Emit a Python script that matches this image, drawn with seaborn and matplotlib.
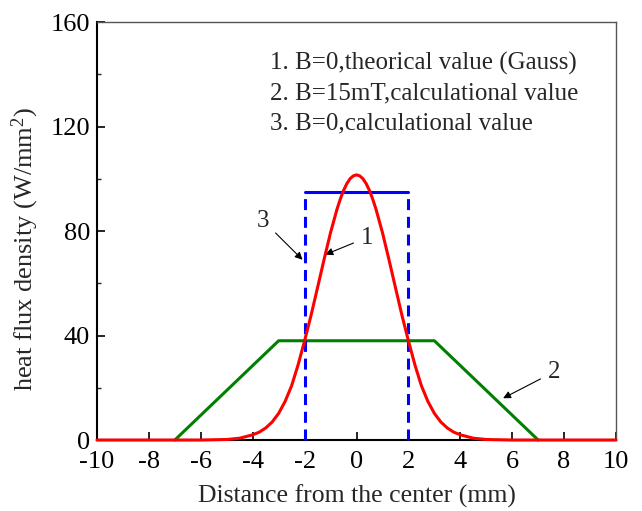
import numpy as np
import pandas as pd
import matplotlib
matplotlib.use("Agg")
import matplotlib.pyplot as plt
import seaborn as sns
from matplotlib.ticker import MultipleLocator

# ---- data ----
gauss_x = [-10, -6, -5, -4.5, -4, -3.75, -3.5, -3.25, -3, -2.75, -2.5, -2.25, -2,
           -1.75, -1.5, -1.25, -1, -0.75, -0.625, -0.5, -0.375, -0.25, -0.125, 0,
           0.125, 0.25, 0.375, 0.5, 0.625, 0.75, 1, 1.25, 1.5, 1.75, 2, 2.25, 2.5,
           2.75, 3, 3.25, 3.5, 3.75, 4, 4.5, 5, 6, 10]
gauss_y = [0, 0, 0.2, 0.7, 2.0, 3.0, 4.6, 6.9, 10.2, 14.8, 20.8, 28.8, 38.0,
           47.8, 58.4, 69.1, 79.4, 88.4, 92.2, 95.5, 98.1, 100.0, 101.1, 101.5,
           101.1, 100.0, 98.1, 95.5, 92.2, 88.4, 79.4, 69.1, 58.4, 47.8, 38.0, 28.8, 20.8,
           14.8, 10.2, 6.9, 4.6, 3.0, 2.0, 0.7, 0.2, 0, 0]

mag_x = [-7, -3, 3, 7]
mag_y = [0, 38, 38, 0]

calc_edges = [-2, 2]
calc_top = 95

legend_lines = ["1. B=0,theorical value (Gauss)",
                "2. B=15mT,calculational value",
                "3. B=0,calculational value"]

x_ticks = [-10, -8, -6, -4, -2, 0, 2, 4, 6, 8, 10]
y_ticks = [0, 40, 80, 120, 160]

# ---- style ----
sns.set_theme(style="ticks")
plt.rcParams["font.family"] = ["Liberation Serif", "DejaVu Serif"]
plt.rcParams["mathtext.fontset"] = "custom"
plt.rcParams["mathtext.rm"] = "Liberation Serif"
plt.rcParams["mathtext.it"] = "Liberation Serif:italic"

fig = plt.figure(figsize=(6.42, 5.11), dpi=100)
ax = fig.add_axes([0.1511, 0.1389, 0.8084, 0.818])

lw = 2.2
# green trapezoid (B=15mT)
sns.lineplot(x=mag_x, y=mag_y, ax=ax, color="#008000", lw=lw, sort=False,
             estimator=None, clip_on=False, zorder=3)
# blue rectangle (B=0 calculational)
for ex in calc_edges:
    sns.lineplot(x=[ex, ex], y=[0, calc_top], ax=ax, color="#0000ff", lw=lw,
                 dashes=False, estimator=None, sort=False, clip_on=False, zorder=4,
                 linestyle=(0, (3.6, 2.2)))
sns.lineplot(x=calc_edges, y=[calc_top, calc_top], ax=ax, color="#0000ff", lw=lw,
             estimator=None, zorder=4)
# red gaussian
sns.lineplot(x=gauss_x, y=gauss_y, ax=ax, color="#ff0000", lw=lw, sort=False,
             estimator=None, clip_on=False, zorder=5)

ax.set_xlim(-10, 10)
ax.set_ylim(0, 160)
ax.set_xticks(x_ticks)
ax.set_yticks(y_ticks)
ax.set_xticklabels([str(t) for t in x_ticks])
ax.set_yticklabels([str(t) for t in y_ticks])
ax.yaxis.set_minor_locator(MultipleLocator(20))
ax.tick_params(axis="both", which="major", direction="in", length=6, width=1.2,
               labelsize=19, colors="black")
ax.tick_params(axis="x", which="major", pad=8)
ax.tick_params(axis="y", which="major", pad=5)
ax.tick_params(axis="y", which="minor", direction="in", length=3, width=1.0)
ax.tick_params(top=False, right=False)

for s in ["left", "bottom"]:
    ax.spines[s].set_color("black")
    ax.spines[s].set_linewidth(1.5)
for s in ["top", "right"]:
    ax.spines[s].set_color("#555555")
    ax.spines[s].set_linewidth(1.0)

ax.set_xlabel("Distance from the center (mm)", fontsize=18.5, labelpad=8)
ax.set_ylabel("heat flux density (W/mm$^{2}$)", fontsize=19)
ax.yaxis.set_label_coords(-0.108, 0.457)

for i, txt in enumerate(legend_lines):
    ax.text(0.333, 0.902 - i * 0.0718, txt, transform=ax.transAxes, fontsize=18,
            ha="left", va="center")

arrow = dict(arrowstyle="-|>", color="black", lw=0.8, mutation_scale=11,
             shrinkA=3, shrinkB=0)
ax.annotate("3", xy=(-2.08, 69), xytext=(-3.6, 84), fontsize=18,
            ha="center", va="center", arrowprops=arrow)
ax.annotate("1", xy=(-1.2, 71), xytext=(0.4, 77.5), fontsize=18,
            ha="center", va="center", arrowprops=arrow)
ax.annotate("2", xy=(5.65, 16), xytext=(7.6, 26), fontsize=18,
            ha="center", va="center", arrowprops=arrow)

fig.savefig("out.png", dpi=100)
